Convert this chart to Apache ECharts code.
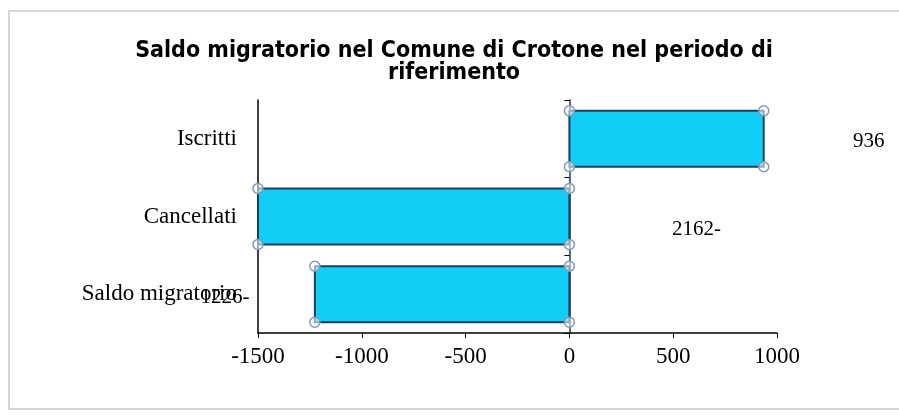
<!DOCTYPE html>
<html>
<head>
<meta charset="utf-8">
<script src="https://cdn.jsdelivr.net/npm/echarts@6/dist/echarts.min.js"></script>
<style>
  html, body { margin: 0; padding: 0; background: #fff; }
  #chart { width: 899px; height: 418px; }
</style>
</head>
<body>
<div id="chart"></div>
<script>
// Categories and values (net migration, Comune di Crotone)
const categories = ['Iscritti', 'Cancellati', 'Saldo migratorio'];
const values = [936, -2162, -1226];
const xTicks = [-1500, -1000, -500, 0, 500, 1000];

// Where each value label sits: anchored to the bar end or to zero, plus a pixel offset
const labelPlacement = [
  { anchor: 'end', dx: 105, dy: 3 },
  { anchor: 'zero', dx: 127, dy: 13 },
  { anchor: 'end', dx: -90, dy: 3 }
];

const BAR_FILL = '#12cdf5';
const BAR_EDGE = '#1f3f5c';
const HANDLE = '#7f9ab4';
const SERIF = '"Liberation Serif", "Times New Roman", serif';

function fmtValue(v) {
  return v < 0 ? Math.abs(v) + '-' : String(v);
}

function renderBar(params, api) {
  const idx = api.value(0);
  const val = api.value(1);
  const cs = params.coordSys;
  const pZero = api.coord([0, idx]);
  const pEnd = api.coord([val, idx]);
  const band = api.size([0, 1])[1];
  const h = band * 0.72;
  const xMin = cs.x, xMax = cs.x + cs.width;
  // keep the bar inside the plot area (values beyond the axis range are cut)
  let x0 = Math.max(Math.min(pZero[0], pEnd[0]), xMin);
  let x1 = Math.min(Math.max(pZero[0], pEnd[0]), xMax);
  const y0 = pZero[1] - h / 2;
  const y1 = pZero[1] + h / 2;
  const children = [{
    type: 'rect',
    shape: { x: x0, y: y0, width: x1 - x0, height: h },
    style: { fill: BAR_FILL, stroke: BAR_EDGE, lineWidth: 2 }
  }];
  [[x0, y0], [x1, y0], [x0, y1], [x1, y1]].forEach(function (c) {
    children.push({
      type: 'circle',
      shape: { cx: c[0], cy: c[1], r: 5 },
      style: { fill: 'rgba(255,255,255,0.55)', stroke: HANDLE, lineWidth: 1.5 },
      z2: 5
    });
  });
  const lp = labelPlacement[idx];
  const ax = lp.anchor === 'zero' ? pZero[0] : (val < 0 ? x0 : x1);
  children.push({
    type: 'text',
    style: {
      text: fmtValue(val),
      x: ax + lp.dx,
      y: pZero[1] + lp.dy,
      align: 'center',
      verticalAlign: 'middle',
      font: '21px ' + SERIF,
      fill: '#000'
    },
    z2: 10
  });
  return { type: 'group', children: children };
}

const chart = echarts.init(document.getElementById('chart'), null, { renderer: 'canvas' });

chart.setOption({
  animation: false,
  backgroundColor: '#ffffff',
  title: {
    text: 'Saldo migratorio nel Comune di Crotone nel periodo di\nriferimento',
    left: 449,
    textAlign: 'center',
    top: 35,
    textStyle: {
      fontFamily: '"Liberation Sans Narrow", "DejaVu Sans Condensed", sans-serif',
      fontWeight: 'bold',
      fontSize: 23,
      lineHeight: 22,
      color: '#000'
    }
  },
  // chart-area frame, open on the right side
  graphic: [{
    type: 'polyline',
    shape: { points: [[899, 11], [9, 11], [9, 409], [899, 409]] },
    style: { fill: 'none', stroke: '#d6d6d6', lineWidth: 2 },
    silent: true
  }],
  grid: { left: 258, right: 122, top: 100, bottom: 85 },
  xAxis: {
    type: 'value',
    min: xTicks[0],
    max: xTicks[xTicks.length - 1],
    interval: 500,
    splitLine: { show: false },
    axisLine: { show: true, lineStyle: { color: '#000', width: 1.5 } },
    axisTick: { show: true, length: 5, lineStyle: { color: '#000' } },
    axisLabel: {
      margin: 12,
      fontFamily: SERIF,
      fontSize: 23,
      color: '#000',
      formatter: function (v) { return String(v); }
    }
  },
  yAxis: [{
    type: 'category',
    data: categories,
    inverse: true,
    axisLine: { show: true, onZero: false, lineStyle: { color: '#000', width: 1.5 } },
    axisTick: { show: false },
    axisLabel: {
      margin: 21,
      fontFamily: SERIF,
      fontSize: 23,
      color: '#000'
    }
  }, {
    type: 'category',
    data: categories,
    inverse: true,
    position: 'left',
    axisLine: { show: true, onZero: true, lineStyle: { color: '#1f3f5c', width: 1.5 } },
    axisTick: { show: true, length: 5, lineStyle: { color: '#000' } },
    axisLabel: { show: false }
  }],
  series: [{
    type: 'custom',
    renderItem: renderBar,
    encode: { x: 1, y: 0 },
    clip: false,
    data: categories.map(function (c, i) { return [i, values[i]]; }),
    z: 3
  }]
});
</script>
</body>
</html>
